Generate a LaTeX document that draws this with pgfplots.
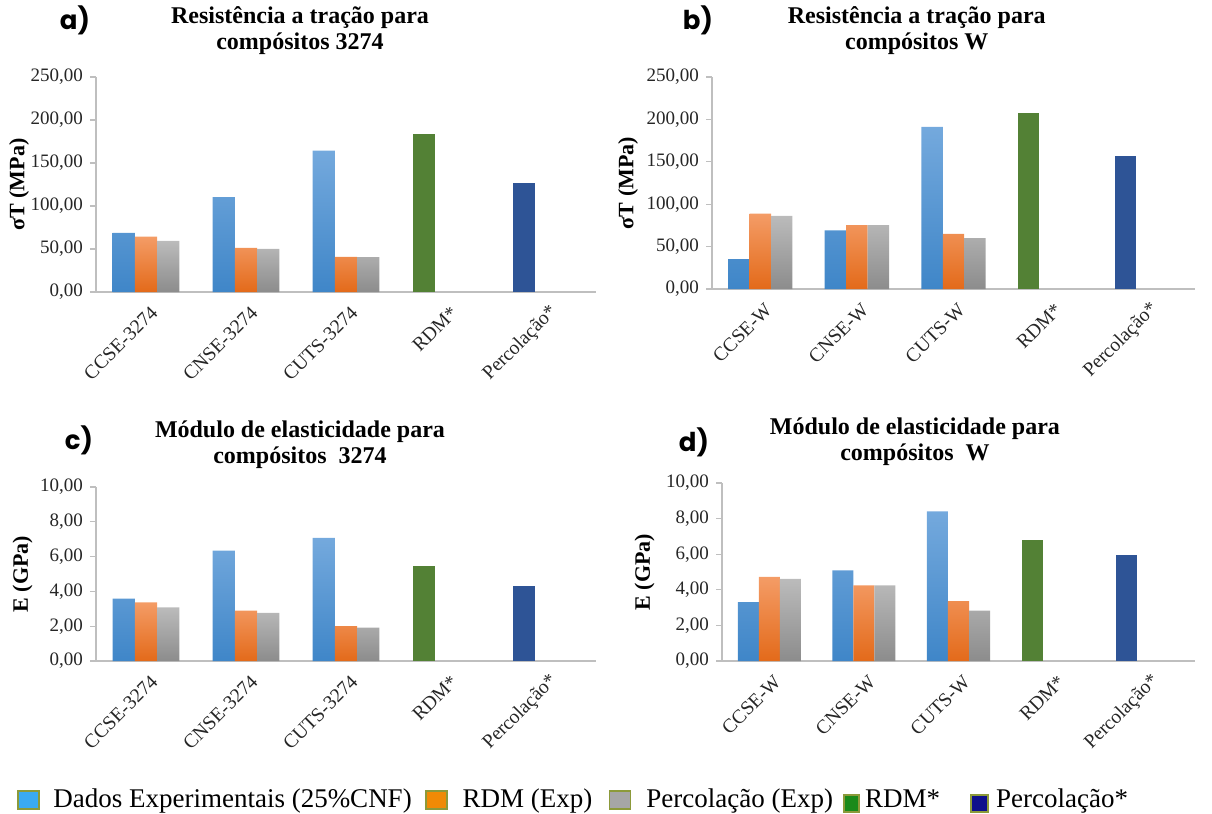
\documentclass[border=0pt]{standalone}
\usepackage{pgfplots}
\pgfplotsset{compat=1.18}
\usepackage{fontspec}
\setmainfont{Liberation Serif}
\newfontfamily\pf{Poppins}

\definecolor{bluetop}{HTML}{74A9DD}
\definecolor{bluebot}{HTML}{3F86C8}
\definecolor{orgtop}{HTML}{F49C66}
\definecolor{orgbot}{HTML}{E36A1A}
\definecolor{grytop}{HTML}{BBBBBB}
\definecolor{grybot}{HTML}{8C8C8C}
\definecolor{grn}{HTML}{538135}
\definecolor{nvy}{HTML}{2E5496}
\definecolor{lgblue}{HTML}{3AAAF2}
\definecolor{lgorange}{HTML}{F08A05}
\definecolor{lggray}{HTML}{A6A6A6}
\definecolor{lggreen}{HTML}{1A8A1A}
\definecolor{lgnavy}{HTML}{0E108C}
\definecolor{lgedge}{HTML}{8C9A3A}
\definecolor{axgray}{HTML}{BFBFBF}

\pgfplotsset{
  panel/.style={
    scale only axis, ybar,
    bar width=0.222,
    xmin=-0.5, xmax=4.5, ymin=0,
    xtick={0,1,2,3,4},
    axis x line*=bottom, axis y line*=left,
    axis line style={draw=axgray, line width=0.6pt},
    xtick style={draw=none},
    ytick style={draw=axgray, line width=0.6pt},
    tick align=outside, major tick length=3pt,
    /pgf/number format/assume math mode=true,
    yticklabel style={/pgf/number format/fixed, /pgf/number format/fixed zerofill,
      /pgf/number format/precision=2, /pgf/number format/use comma,
      /pgf/number format/1000 sep={}},
    tick label style={font=\fontsize{9.5}{11}\selectfont, text=black!85},
    xticklabel style={font=\fontsize{9.8}{12}\selectfont, rotate=45, anchor=east, inner sep=0pt, yshift=-7pt, xshift=-1pt},
    ylabel style={font=\bfseries\fontsize{11}{12}\selectfont},
    title style={font=\bfseries\fontsize{12}{13}\selectfont, align=center, anchor=south, inner sep=0pt},
    enlarge x limits=false,
  },
  sblue/.style={draw=none, top color=bluetop, bottom color=bluebot, bar shift=-0.222},
  sorange/.style={draw=none, top color=orgtop, bottom color=orgbot, bar shift=0},
  sgray/.style={draw=none, top color=grytop, bottom color=grybot, bar shift=0.222},
  sgreen/.style={draw=none, fill=grn, bar shift=-0.222},
  snavy/.style={draw=none, fill=nvy, bar shift=-0.222},
  % legend box: #1 cell width, #2 box left, #3 box right, #4 bottom, #5 top, #6 fill
  lgbox/.style n args={6}{legend image code/.code={%
    \path[draw=none, fill=none] (0pt,0pt) rectangle (#1,0pt);
    \path[draw=lgedge, line width=0.9pt, fill=#6] (#2,#4) rectangle (#3,#5);}},
}

\begin{document}
\begin{tikzpicture}
\useasboundingbox (0,0) rectangle (606pt,-407pt);

% ---------- a) ----------
\begin{axis}[panel, at={(48pt,-146pt)}, anchor=south west,
  width=250pt, height=107.5pt, ymax=250, ytick={0,50,100,150,200,250},
  xticklabels={CCSE-3274,CNSE-3274,CUTS-3274,RDM*,Percolação*},
  ylabel={σT (MPa)}, ylabel shift=-6pt,
  title={Resistência a tração para\\compósitos 3274},
  title style={at={(0.408,1)}, yshift=5pt}]
\addplot[sblue] coordinates {(0,68.7) (1,110.3) (2,164.4)};
\addplot[sorange] coordinates {(0,64.4) (1,51.3) (2,40.9)};
\addplot[sgray] coordinates {(0,59.4) (1,50.2) (2,40.5)};
\addplot[sgreen] coordinates {(3,183.3)};
\addplot[snavy] coordinates {(4,126.9)};
\end{axis}

% ---------- b) ----------
\begin{axis}[panel, at={(356pt,-144.5pt)}, anchor=south west,
  width=241.5pt, height=106pt, ymax=250, ytick={0,50,100,150,200,250},
  xticklabels={CCSE-W,CNSE-W,CUTS-W,RDM*,Percolação*},
  ylabel={σT (MPa)}, ylabel shift=-2.5pt,
  title={Resistência a tração para\\compósitos W},
  title style={at={(0.424,1)}, yshift=5pt}]
\addplot[sblue] coordinates {(0,35.3) (1,69.0) (2,191.2)};
\addplot[sorange] coordinates {(0,88.9) (1,75.2) (2,65.0)};
\addplot[sgray] coordinates {(0,86.2) (1,75.2) (2,60.0)};
\addplot[sgreen] coordinates {(3,207.3)};
\addplot[snavy] coordinates {(4,157.1)};
\end{axis}

% ---------- c) ----------
\begin{axis}[panel, at={(48pt,-330.5pt)}, anchor=south west,
  width=250pt, height=87pt, ymax=10, ytick={0,2,4,6,8,10},
  xticklabels={CCSE-3274,CNSE-3274,CUTS-3274,RDM*,Percolação*},
  ylabel={E (GPa)}, ylabel shift=-3pt,
  title={Módulo de elasticidade para\\compósitos\ \ 3274},
  title style={at={(0.408,1)}, yshift=3pt}]
\addplot[sblue] coordinates {(0,3.58) (1,6.34) (2,7.07)};
\addplot[sorange] coordinates {(0,3.37) (1,2.89) (2,2.01)};
\addplot[sgray] coordinates {(0,3.08) (1,2.76) (2,1.92)};
\addplot[sgreen] coordinates {(3,5.48)};
\addplot[snavy] coordinates {(4,4.31)};
\end{axis}

% ---------- d) ----------
\begin{axis}[panel, at={(361pt,-330.5pt)}, anchor=south west,
  width=236.5pt, height=89pt, ymax=10, ytick={0,2,4,6,8,10},
  xticklabels={CCSE-W,CNSE-W,CUTS-W,RDM*,Percolação*},
  ylabel={E (GPa)}, ylabel shift=-1pt,
  title={Módulo de elasticidade para\\compósitos\ \ W},
  title style={at={(0.408,1)}, yshift=2.5pt}]
\addplot[sblue] coordinates {(0,3.31) (1,5.09) (2,8.41)};
\addplot[sorange] coordinates {(0,4.72) (1,4.25) (2,3.37)};
\addplot[sgray] coordinates {(0,4.61) (1,4.25) (2,2.83)};
\addplot[sgreen] coordinates {(3,6.80)};
\addplot[snavy] coordinates {(4,5.96)};
\end{axis}

% ---------- legend ----------
\begin{axis}[at={(0pt,-407pt)}, anchor=south west, hide axis, scale only axis,
  width=606pt, height=14pt, xmin=0, xmax=1, ymin=0, ymax=1,
  legend columns=5,
  legend style={at={(0,0.5)}, anchor=west, xshift=8.5pt, draw=none, fill=none,
    inner sep=0pt, font=\fontsize{13.5}{14}\selectfont,
    nodes={inner xsep=0pt},
    /tikz/every odd column/.append style={column sep=0pt},
    /tikz/every even column/.append style={column sep=0pt}},
  legend cell align=left]
\addlegendimage{lgbox={17.5pt}{0pt}{10.5pt}{-4.5pt}{4.5pt}{lgblue}}
\addlegendentry{Dados Experimentais (25\%CNF)}
\addlegendimage{lgbox={25.5pt}{7pt}{17.5pt}{-4.5pt}{4.5pt}{lgorange}}
\addlegendentry{RDM (Exp)}
\addlegendimage{lgbox={27pt}{8.5pt}{19pt}{-4.5pt}{4.5pt}{lggray}}
\addlegendentry{Percolação (Exp)}
\addlegendimage{lgbox={16pt}{5.5pt}{13pt}{-6pt}{2.5pt}{lggreen}}
\addlegendentry{RDM*}
\addlegendimage{lgbox={28pt}{15.5pt}{24pt}{-6pt}{2.5pt}{lgnavy}}
\addlegendentry{Percolação*}
\end{axis}

% panel letters
\node[font=\pf\bfseries\fontsize{13}{13}\selectfont] at (37.5pt,-10pt) {a)};
\node[font=\pf\bfseries\fontsize{13}{13}\selectfont] at (349pt,-10pt) {b)};
\node[font=\pf\bfseries\fontsize{13}{13}\selectfont] at (39.5pt,-220pt) {c)};
\node[font=\pf\bfseries\fontsize{13}{13}\selectfont] at (347pt,-221pt) {d)};
\end{tikzpicture}
\end{document}
